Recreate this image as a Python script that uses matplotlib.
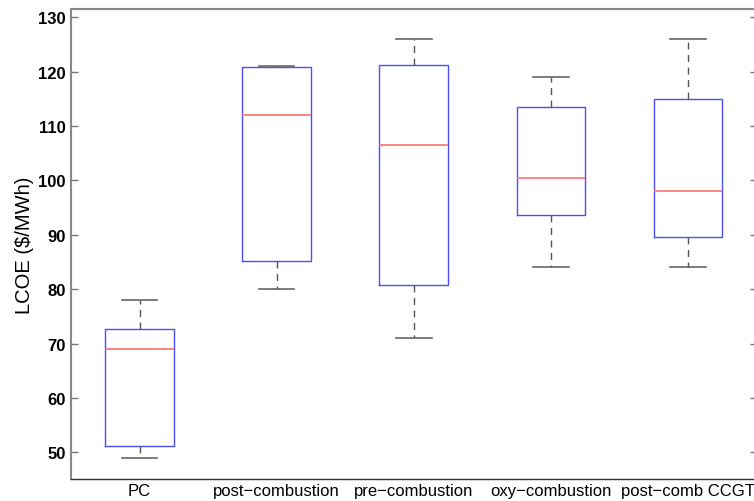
import matplotlib
matplotlib.use("Agg")
import matplotlib.pyplot as plt

categories = ["PC", "post\u2212combustion", "pre\u2212combustion", "oxy\u2212combustion", "post\u2212comb CCGT"]
whisker_low = [49.0, 80.0, 71.0, 84.1, 84.1]
q1 = [51.2, 85.1, 80.7, 93.6, 89.6]
medians = [69.0, 112.1, 106.5, 100.5, 98.1]
q3 = [72.7, 120.8, 121.2, 113.5, 114.9]
whisker_high = [78.0, 121.0, 126.0, 119.0, 126.0]
yticks = [50, 60, 70, 80, 90, 100, 110, 120, 130]

plt.rcParams['font.family'] = ['Liberation Sans', 'DejaVu Sans']

fig = plt.figure(figsize=(7.54, 5.02), dpi=100)
ax = fig.add_axes([71/754, 22/502, 685.5/754, 470/502])

stats = []
for i, c in enumerate(categories):
    stats.append(dict(label=c, whislo=whisker_low[i], q1=q1[i], med=medians[i],
                      q3=q3[i], whishi=whisker_high[i], fliers=[]))

ax.bxp(stats, positions=range(1, len(categories) + 1), widths=0.5, capwidths=0.26,
       showfliers=False,
       boxprops=dict(color='#4d4dff', linewidth=1.0),
       medianprops=dict(color='#ff6f6f', linewidth=1.2),
       whiskerprops=dict(color='#555555', linewidth=1.0, linestyle=(0, (5, 4))),
       capprops=dict(color='#666666', linewidth=1.2))

ax.set_xlim(0.5, 5.5)
ax.set_ylim(45.1, 131.5)
ax.set_yticks(yticks)
ax.set_yticklabels([str(v) for v in yticks], fontsize=12, fontweight='bold')
ax.set_xticks(range(1, len(categories) + 1))
ax.set_xticklabels(categories, fontsize=12)
ax.tick_params(axis='x', length=0, pad=3)
ax.tick_params(axis='y', direction='in', length=5, width=1, color='#777777',
               right=True, left=True, pad=4)
ax.set_ylabel("LCOE ($/MWh)", fontsize=14.5, labelpad=3)

for s in ['left', 'top', 'right']:
    ax.spines[s].set_color('#888888')
    ax.spines[s].set_linewidth(1.5)
ax.spines['bottom'].set_color('#333333')
ax.spines['bottom'].set_linewidth(1.0)

fig.savefig("out.png", dpi=100)
